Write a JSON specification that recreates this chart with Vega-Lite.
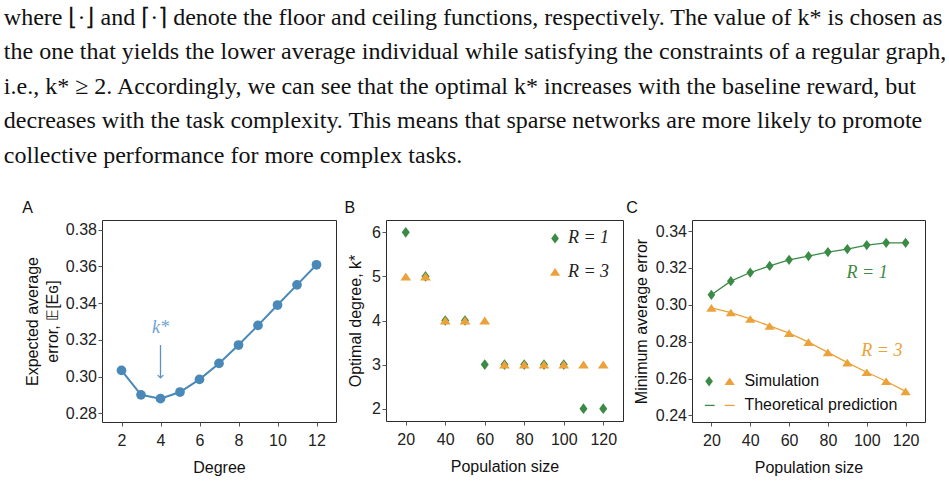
{
  "$schema": "https://vega.github.io/schema/vega-lite/v6.json",
  "background": "white",
  "padding": {"left": 3, "top": 5, "right": 2, "bottom": 4},
  "title": {
    "text": [
      "where ⌊·⌋ and ⌈·⌉ denote the floor and ceiling functions, respectively. The value of k* is chosen as",
      "the one that yields the lower average individual while satisfying the constraints of a regular graph,",
      "i.e., k* ≥ 2. Accordingly, we can see that the optimal k* increases with the baseline reward, but",
      "decreases with the task complexity. This means that sparse networks are more likely to promote",
      "collective performance for more complex tasks."
    ],
    "font": "Liberation Serif",
    "fontSize": 24,
    "fontWeight": "normal",
    "color": "#111111",
    "anchor": "start",
    "frame": "bounds",
    "baseline": "top",
    "lineHeight": 34.5,
    "offset": 32,
    "dx": -18
  },
  "datasets": {
    "degreeCurve": [
      {"degree": 2, "err": 0.3034},
      {"degree": 3, "err": 0.2901},
      {"degree": 4, "err": 0.2880},
      {"degree": 5, "err": 0.2916},
      {"degree": 6, "err": 0.2985},
      {"degree": 7, "err": 0.3072},
      {"degree": 8, "err": 0.3172},
      {"degree": 9, "err": 0.3279},
      {"degree": 10, "err": 0.3390},
      {"degree": 11, "err": 0.3500},
      {"degree": 12, "err": 0.3609}
    ],
    "kStarArrow": [
      {"degree": 4, "err": 0.3172, "err2": 0.2993}
    ],
    "kStarLabel": [
      {"degree": 4, "err": 0.3264, "label": "k*"}
    ],
    "optimalDegree": [
      {"N": 20, "R": "R = 1", "k": 6},
      {"N": 30, "R": "R = 1", "k": 5},
      {"N": 40, "R": "R = 1", "k": 4},
      {"N": 50, "R": "R = 1", "k": 4},
      {"N": 60, "R": "R = 1", "k": 3},
      {"N": 70, "R": "R = 1", "k": 3},
      {"N": 80, "R": "R = 1", "k": 3},
      {"N": 90, "R": "R = 1", "k": 3},
      {"N": 100, "R": "R = 1", "k": 3},
      {"N": 110, "R": "R = 1", "k": 2},
      {"N": 120, "R": "R = 1", "k": 2},
      {"N": 20, "R": "R = 3", "k": 5},
      {"N": 30, "R": "R = 3", "k": 5},
      {"N": 40, "R": "R = 3", "k": 4},
      {"N": 50, "R": "R = 3", "k": 4},
      {"N": 60, "R": "R = 3", "k": 4},
      {"N": 70, "R": "R = 3", "k": 3},
      {"N": 80, "R": "R = 3", "k": 3},
      {"N": 90, "R": "R = 3", "k": 3},
      {"N": 100, "R": "R = 3", "k": 3},
      {"N": 110, "R": "R = 3", "k": 3},
      {"N": 120, "R": "R = 3", "k": 3}
    ],
    "degreeKey": [
      {"N": 95.6, "Nt": 102.1, "k": 5.863, "R": "R = 1"},
      {"N": 95.6, "Nt": 102.1, "k": 5.105, "R": "R = 3"}
    ],
    "minError": [
      {"N": 20, "R": "R = 1", "err": 0.3054},
      {"N": 30, "R": "R = 1", "err": 0.3128},
      {"N": 40, "R": "R = 1", "err": 0.3175},
      {"N": 50, "R": "R = 1", "err": 0.3211},
      {"N": 60, "R": "R = 1", "err": 0.3244},
      {"N": 70, "R": "R = 1", "err": 0.3264},
      {"N": 80, "R": "R = 1", "err": 0.3286},
      {"N": 90, "R": "R = 1", "err": 0.3302},
      {"N": 100, "R": "R = 1", "err": 0.3324},
      {"N": 110, "R": "R = 1", "err": 0.3336},
      {"N": 120, "R": "R = 1", "err": 0.3336},
      {"N": 20, "R": "R = 3", "err": 0.2983},
      {"N": 30, "R": "R = 3", "err": 0.2958},
      {"N": 40, "R": "R = 3", "err": 0.2923},
      {"N": 50, "R": "R = 3", "err": 0.2885},
      {"N": 60, "R": "R = 3", "err": 0.2846},
      {"N": 70, "R": "R = 3", "err": 0.2797},
      {"N": 80, "R": "R = 3", "err": 0.2742},
      {"N": 90, "R": "R = 3", "err": 0.2686},
      {"N": 100, "R": "R = 3", "err": 0.2634},
      {"N": 110, "R": "R = 3", "err": 0.2585},
      {"N": 120, "R": "R = 3", "err": 0.2530}
    ],
    "curveLabels": [
      {"N": 100.2, "err": 0.3170, "R": "R = 1"},
      {"N": 107.8, "err": 0.2748, "R": "R = 3"}
    ],
    "keySymbols": [
      {"N": 18.8, "err": 0.2585, "R": "R = 1"},
      {"N": 29.4, "err": 0.2585, "R": "R = 3"}
    ],
    "keyDashes": [
      {"N": 16.6, "N2": 21.7, "err": 0.2454, "R": "R = 1"},
      {"N": 26.8, "N2": 32.0, "err": 0.2454, "R": "R = 3"}
    ],
    "keyText": [
      {"N": 37, "err": 0.2585, "label": "Simulation"},
      {"N": 37, "err": 0.2454, "label": "Theoretical prediction"}
    ]
  },
  "spacing": 1,
  "hconcat": [
    {
      "spacing": 7,
      "hconcat": [
        {
          "width": 234,
          "height": 202,
          "title": {"text": "A"},
          "layer": [
            {
              "data": {"name": "degreeCurve"},
              "mark": {"type": "line", "color": "#4a88b8", "strokeWidth": 2},
              "encoding": {
                "x": {
                  "field": "degree", "type": "quantitative",
                  "scale": {"domain": [1, 13], "nice": false, "zero": false},
                  "axis": {"values": [2, 4, 6, 8, 10, 12], "title": "Degree"}
                },
                "y": {
                  "field": "err", "type": "quantitative",
                  "scale": {"domain": [0.2753, 0.3853], "nice": false, "zero": false},
                  "axis": {
                    "values": [0.28, 0.30, 0.32, 0.34, 0.36, 0.38],
                    "format": ".2f",
                    "title": ["Expected average", "error, 𝔼[Eɢ]"],
                    "titleLineHeight": 20,
                    "titlePadding": 5
                  }
                }
              }
            },
            {
              "data": {"name": "degreeCurve"},
              "mark": {"type": "point", "shape": "circle", "filled": true, "opacity": 1, "color": "#4a88b8", "size": 95},
              "encoding": {
                "x": {"field": "degree", "type": "quantitative"},
                "y": {"field": "err", "type": "quantitative"}
              }
            },
            {
              "data": {"name": "kStarArrow"},
              "mark": {"type": "rule", "color": "#5b94c3", "strokeWidth": 1.3},
              "encoding": {
                "x": {"field": "degree", "type": "quantitative"},
                "y": {"field": "err", "type": "quantitative"},
                "y2": {"field": "err2"}
              }
            },
            {
              "data": {"name": "kStarArrow"},
              "mark": {"type": "point", "shape": "M-1,-1L0,0L1,-1", "filled": false, "opacity": 1, "color": "#5b94c3", "strokeWidth": 1.3, "size": 32},
              "encoding": {
                "x": {"field": "degree", "type": "quantitative"},
                "y": {"field": "err2", "type": "quantitative"}
              }
            },
            {
              "data": {"name": "kStarLabel"},
              "mark": {"type": "text", "font": "Liberation Serif", "fontStyle": "italic", "fontSize": 18, "color": "#6fa3cf", "baseline": "middle", "align": "center"},
              "encoding": {
                "x": {"field": "degree", "type": "quantitative"},
                "y": {"field": "err", "type": "quantitative"},
                "text": {"field": "label"}
              }
            }
          ]
        },
        {
          "width": 237,
          "height": 201,
          "title": {"text": "B", "dx": -3},
          "layer": [
            {
              "data": {"name": "optimalDegree"},
              "mark": {"type": "point", "filled": true, "opacity": 1, "size": 115},
              "encoding": {
                "x": {
                  "field": "N", "type": "quantitative",
                  "scale": {"domain": [10, 130], "nice": false, "zero": false},
                  "axis": {"values": [20, 40, 60, 80, 100, 120], "title": "Population size"}
                },
                "y": {
                  "field": "k", "type": "quantitative",
                  "scale": {"domain": [1.72, 6.28], "nice": false, "zero": false},
                  "axis": {"values": [2, 3, 4, 5, 6], "title": "Optimal degree, k*", "titlePadding": 8}
                },
                "color": {
                  "field": "R", "type": "nominal",
                  "scale": {"domain": ["R = 1", "R = 3"], "range": ["#3b8a45", "#eba23a"]},
                  "legend": null
                },
                "shape": {
                  "field": "R", "type": "nominal",
                  "scale": {"domain": ["R = 1", "R = 3"], "range": ["M0,-1L0.75,0L0,1L-0.75,0Z", "M0,-0.75L1,0.75L-1,0.75Z"]},
                  "legend": null
                }
              }
            },
            {
              "data": {"name": "degreeKey"},
              "mark": {"type": "point", "filled": true, "opacity": 1, "size": 105},
              "encoding": {
                "x": {"field": "N", "type": "quantitative"},
                "y": {"field": "k", "type": "quantitative"},
                "color": {"field": "R", "type": "nominal", "legend": null},
                "shape": {"field": "R", "type": "nominal", "legend": null}
              }
            },
            {
              "data": {"name": "degreeKey"},
              "mark": {"type": "text", "font": "Liberation Serif", "fontStyle": "italic", "fontSize": 18, "align": "left", "baseline": "middle", "color": "#222222"},
              "encoding": {
                "x": {"field": "Nt", "type": "quantitative"},
                "y": {"field": "k", "type": "quantitative"},
                "text": {"field": "R"}
              }
            }
          ]
        }
      ]
    },
    {
      "width": 233,
      "height": 202,
      "title": {"text": "C", "dx": -7},
      "layer": [
        {
          "data": {"name": "minError"},
          "mark": {"type": "line", "strokeWidth": 1.3},
          "encoding": {
            "x": {
              "field": "N", "type": "quantitative",
              "scale": {"domain": [10, 130], "nice": false, "zero": false},
              "axis": {"values": [20, 40, 60, 80, 100, 120], "title": "Population size"}
            },
            "y": {
              "field": "err", "type": "quantitative",
              "scale": {"domain": [0.2364, 0.346], "nice": false, "zero": false},
              "axis": {
                "values": [0.24, 0.26, 0.28, 0.30, 0.32, 0.34],
                "format": ".2f",
                "title": "Minimum average error",
                "titlePadding": 6
              }
            },
            "color": {
              "field": "R", "type": "nominal",
              "scale": {"domain": ["R = 1", "R = 3"], "range": ["#3b8a45", "#eba23a"]},
              "legend": null
            }
          }
        },
        {
          "data": {"name": "minError"},
          "mark": {"type": "point", "filled": true, "opacity": 1, "size": 105},
          "encoding": {
            "x": {"field": "N", "type": "quantitative"},
            "y": {"field": "err", "type": "quantitative"},
            "color": {"field": "R", "type": "nominal", "legend": null},
            "shape": {
              "field": "R", "type": "nominal",
              "scale": {"domain": ["R = 1", "R = 3"], "range": ["M0,-1L0.75,0L0,1L-0.75,0Z", "M0,-0.75L1,0.75L-1,0.75Z"]},
              "legend": null
            }
          }
        },
        {
          "data": {"name": "curveLabels"},
          "mark": {"type": "text", "font": "Liberation Serif", "fontStyle": "italic", "fontSize": 18, "align": "center", "baseline": "middle"},
          "encoding": {
            "x": {"field": "N", "type": "quantitative"},
            "y": {"field": "err", "type": "quantitative"},
            "text": {"field": "R"},
            "color": {"field": "R", "type": "nominal", "legend": null}
          }
        },
        {
          "data": {"name": "keySymbols"},
          "mark": {"type": "point", "filled": true, "opacity": 1, "size": 105},
          "encoding": {
            "x": {"field": "N", "type": "quantitative"},
            "y": {"field": "err", "type": "quantitative"},
            "color": {"field": "R", "type": "nominal", "legend": null},
            "shape": {"field": "R", "type": "nominal", "legend": null}
          }
        },
        {
          "data": {"name": "keyDashes"},
          "mark": {"type": "rule", "strokeWidth": 1.3},
          "encoding": {
            "x": {"field": "N", "type": "quantitative"},
            "x2": {"field": "N2"},
            "y": {"field": "err", "type": "quantitative"},
            "color": {"field": "R", "type": "nominal", "legend": null}
          }
        },
        {
          "data": {"name": "keyText"},
          "mark": {"type": "text", "font": "Liberation Sans", "fontSize": 16, "align": "left", "baseline": "middle", "color": "#111111"},
          "encoding": {
            "x": {"field": "N", "type": "quantitative"},
            "y": {"field": "err", "type": "quantitative"},
            "text": {"field": "label"}
          }
        }
      ]
    }
  ],
  "config": {
    "view": {"stroke": "#2b2b2b", "strokeWidth": 1},
    "axis": {
      "grid": false,
      "domain": false,
      "labelFont": "Liberation Sans",
      "labelFontSize": 16,
      "labelColor": "#222222",
      "labelPadding": 1.5,
      "titleFont": "Liberation Sans",
      "titleFontSize": 16,
      "titleFontWeight": "normal",
      "titleColor": "#111111",
      "tickColor": "#555555",
      "tickSize": 4
    },
    "axisX": {"labelPadding": 6, "titlePadding": 11},
    "title": {
      "font": "Liberation Sans",
      "fontSize": 16,
      "fontWeight": "normal",
      "color": "#111111",
      "anchor": "start",
      "frame": "bounds",
      "baseline": "alphabetic",
      "offset": 4,
      "dx": -2
    }
  }
}
